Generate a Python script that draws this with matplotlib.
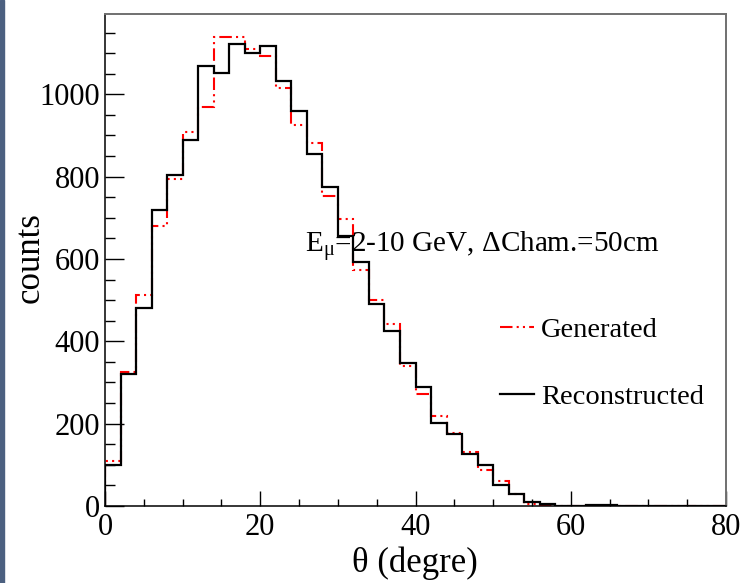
import numpy as np
import matplotlib
matplotlib.use('Agg')
import matplotlib.pyplot as plt
from matplotlib.patches import Rectangle
from matplotlib.ticker import MultipleLocator

plt.rcParams['font.family'] = ['Liberation Serif', 'DejaVu Serif']
plt.rcParams['mathtext.fontset'] = 'custom'
plt.rcParams['mathtext.rm'] = 'Liberation Serif'
plt.rcParams['mathtext.it'] = 'Liberation Serif:italic'

### Histogrammes theta (bins de 2 degres, 0 -> 80)
bin_edges = np.arange(0, 82, 2)

generated = [109, 325, 512, 679, 795, 909, 970, 1138, 1138, 1110,
             1094, 1015, 926, 882, 752, 696, 572, 501, 441, 339,
             271, 218, 178, 130, 87, 60, 28, 4, 3, 0,
             0, 1, 1, 0, 0, 0, 0, 0, 0, 0]

reconstructed = [99, 321, 482, 718, 805, 890, 1068, 1051, 1122, 1100,
                 1118, 1033, 959, 855, 776, 655, 592, 490, 424, 347,
                 290, 202, 176, 127, 99, 50, 28, 10, 4, 1,
                 0, 2, 2, 0, 0, 0, 0, 0, 0, 0]

x_ticks = [0, 20, 40, 60, 80]
y_ticks = [0, 200, 400, 600, 800, 1000]

W, H = 742, 583
fig = plt.figure(figsize=(W/100, H/100), dpi=100)
fig.patches.append(Rectangle((0, 0), 4/W, 1, transform=fig.transFigure,
                             color='#4c6080', zorder=0))
ax = fig.add_axes([105/W, 1-506/H, 621/W, 492/H])

ax.stairs(generated, bin_edges, color='red', lw=1.5,
          linestyle=(0, (6, 2, 1, 2, 1, 2)), label='Generated')
ax.stairs(reconstructed, bin_edges, color='black', lw=1.6, label='Reconstructed')

ax.set_xlim(0, 80)
ax.set_ylim(0, 1195)
ax.set_xticks(x_ticks)
ax.set_yticks(y_ticks)
ax.xaxis.set_minor_locator(MultipleLocator(5))
ax.yaxis.set_minor_locator(MultipleLocator(50))
ax.tick_params(axis='y', which='major', direction='in', length=13.7, width=1, labelsize=22, pad=3.5)
ax.tick_params(axis='y', which='minor', direction='in', length=7.2, width=1)
ax.tick_params(axis='x', which='major', direction='in', length=10.8, width=1, labelsize=22, pad=5)
ax.tick_params(axis='x', which='minor', direction='in', length=5.4, width=1)

for s in ['top', 'right']:
    ax.spines[s].set_color('#707070')
    ax.spines[s].set_linewidth(1.4)
for s in ['left', 'bottom']:
    ax.spines[s].set_linewidth(1.1)

# titres des axes places en pixels
fig.text(415/W, 1-563/H, 'θ (degre)', fontsize=25, ha='center', va='center')
fig.text(30/W, 1-258/H, 'counts', fontsize=25, rotation=90, ha='center', va='center')

fig.text(305/W, 1-252/H, r'E$_{\mathrm{\mu}}$=2-10 GeV, ΔCham.=50cm', fontsize=21,
         va='baseline', ha='left')

ax.legend(loc='upper left', bbox_to_anchor=(500/W, 1-317/H), bbox_transform=fig.transFigure,
          frameon=False, fontsize=20.5, handlelength=1.2, handletextpad=0.25,
          labelspacing=1.45, borderpad=0, borderaxespad=0)

fig.savefig('out.png', dpi=100)
